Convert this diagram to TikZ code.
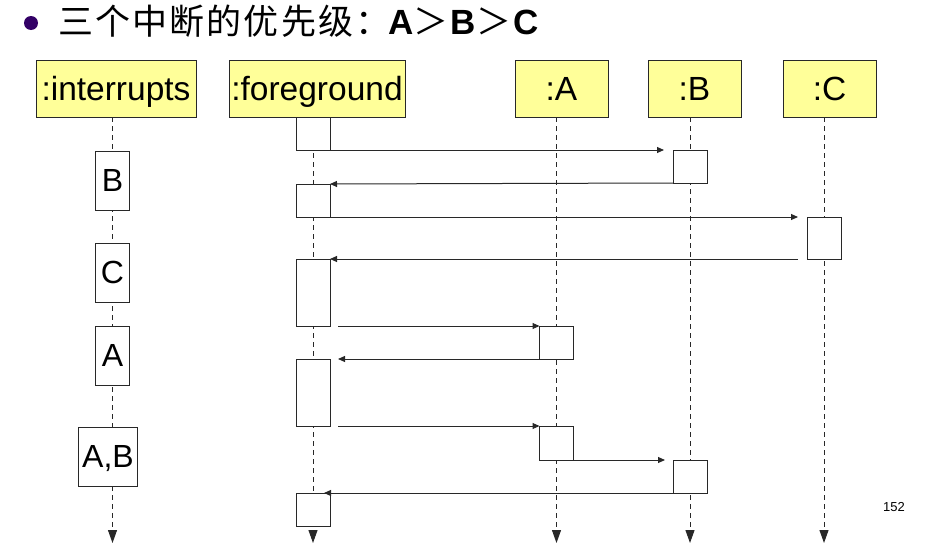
\documentclass[tikz,border=0pt]{standalone}
\usepackage{fontspec}
\setmainfont{Liberation Sans}
\newfontfamily\cjk[LetterSpace=6]{Noto Sans CJK SC}
\usepackage{tikz}
\usetikzlibrary{positioning, arrows.meta}
\usepackage{xcolor}
\definecolor{hdryellow}{RGB}{255, 255, 153}
\definecolor{bulletpurple}{RGB}{51, 0, 102}
\definecolor{linegray}{RGB}{40, 40, 40}

\begin{document}
\begin{tikzpicture}[x=1pt, y=-1pt, line width=1pt,
    hdr/.style={draw=linegray, fill=hdryellow, minimum height=57pt, inner sep=0pt, outer sep=0pt, text depth=0pt, font=\fontsize{33.5}{38}\selectfont},
    act/.style={draw=linegray, fill=white, minimum width=34pt, inner sep=0pt, outer sep=0pt, anchor=north},
    irq/.style={act, minimum height=59pt, text depth=0pt, font=\fontsize{32}{36}\selectfont},
    life/.style={linegray, dash pattern=on 5pt off 4pt, -{Triangle[length=13pt, width=9pt]}},
    msg/.style={linegray, -{Triangle[length=7pt, width=6pt]}}]
    \useasboundingbox (0,0) rectangle (942,554);

    % title
    \node[circle, fill=bulletpurple, minimum size=14pt, inner sep=0pt] (bullet) at (31,23) {};
    \node[anchor=base west, inner sep=0pt, font=\fontsize{35}{40}\selectfont] (title) at (58,34)
        {{\cjk 三个中断的优先级：}\hspace{-4pt}\textbf{A}{\cjk ＞}\textbf{B}{\cjk ＞}\textbf{C}};

    % objects
    \node[hdr, minimum width=160pt] (intr) at (116,88.5) {:interrupts};
    \node[hdr, minimum width=176pt] (fg) at (317,88.5) {:foreground};
    \node[hdr, minimum width=93pt] (objA) at (561.5,88.5) {:A};
    \node[hdr, minimum width=93pt] (objB) at (694.5,88.5) {:B};
    \node[hdr, minimum width=93pt] (objC) at (829.5,88.5) {:C};

    % lifelines
    \foreach \n/\x in {intr/112.5, fg/313, objA/556.5, objB/690, objC/824} {
        \coordinate (\n-top) at (\x,117);
        \coordinate (\n-end) at (\x,543);
        \draw[life] (\n-top) -- (\n-end);
    }

    % activations
    \node[irq] (irqB) at (112.5,151) {B};
    \node[irq] (irqC) at (112.5,243) {C};
    \node[irq] (irqA) at (112.5,326) {A};
    \node[irq, minimum width=59pt] (irqAB) at (108,427) {A,B};

    \node[act, minimum height=33pt] (f1) at (313,117) {};
    \node[act, minimum height=33pt] (f2) at (313,184) {};
    \node[act, minimum height=67pt] (f3) at (313,259) {};
    \node[act, minimum height=67pt] (f4) at (313,359) {};
    \node[act, minimum height=33pt] (f5) at (313,493) {};
    \node[act, minimum height=33pt] (b1) at (690,150) {};
    \node[act, minimum height=33pt] (b2) at (690,460) {};
    \node[act, minimum height=42pt] (c1) at (824,217) {};
    \node[act, minimum height=33pt] (a1) at (556.5,326) {};
    \node[act, minimum height=34pt] (a2) at (556.5,426) {};

    % messages
    \draw[msg, shorten >=9pt] (f1.south east) -- (b1.north west);
    \draw[msg] (b1.south west) -- (f2.north east);
    \draw[msg, shorten >=9pt] (f2.south east) -- (c1.north west);
    \draw[msg, shorten <=9pt] (c1.south west) -- (f3.north east);
    \draw[msg, shorten <=8pt] (f3.south east) -- (a1.north west);
    \draw[msg, shorten >=8pt] (a1.south west) -- (f4.north east);
    \draw[msg, shorten <=8pt] (f4.south east) -- (a2.north west);
    \draw[msg, shorten >=8pt] (a2.south east) -- (b2.north west);
    \draw[msg, shorten >=11pt] (b2.south west) -- (f5.north);

    \node[font=\fontsize{13}{15}\selectfont] (pgno) at (894,507) {152};
\end{tikzpicture}
\end{document}
